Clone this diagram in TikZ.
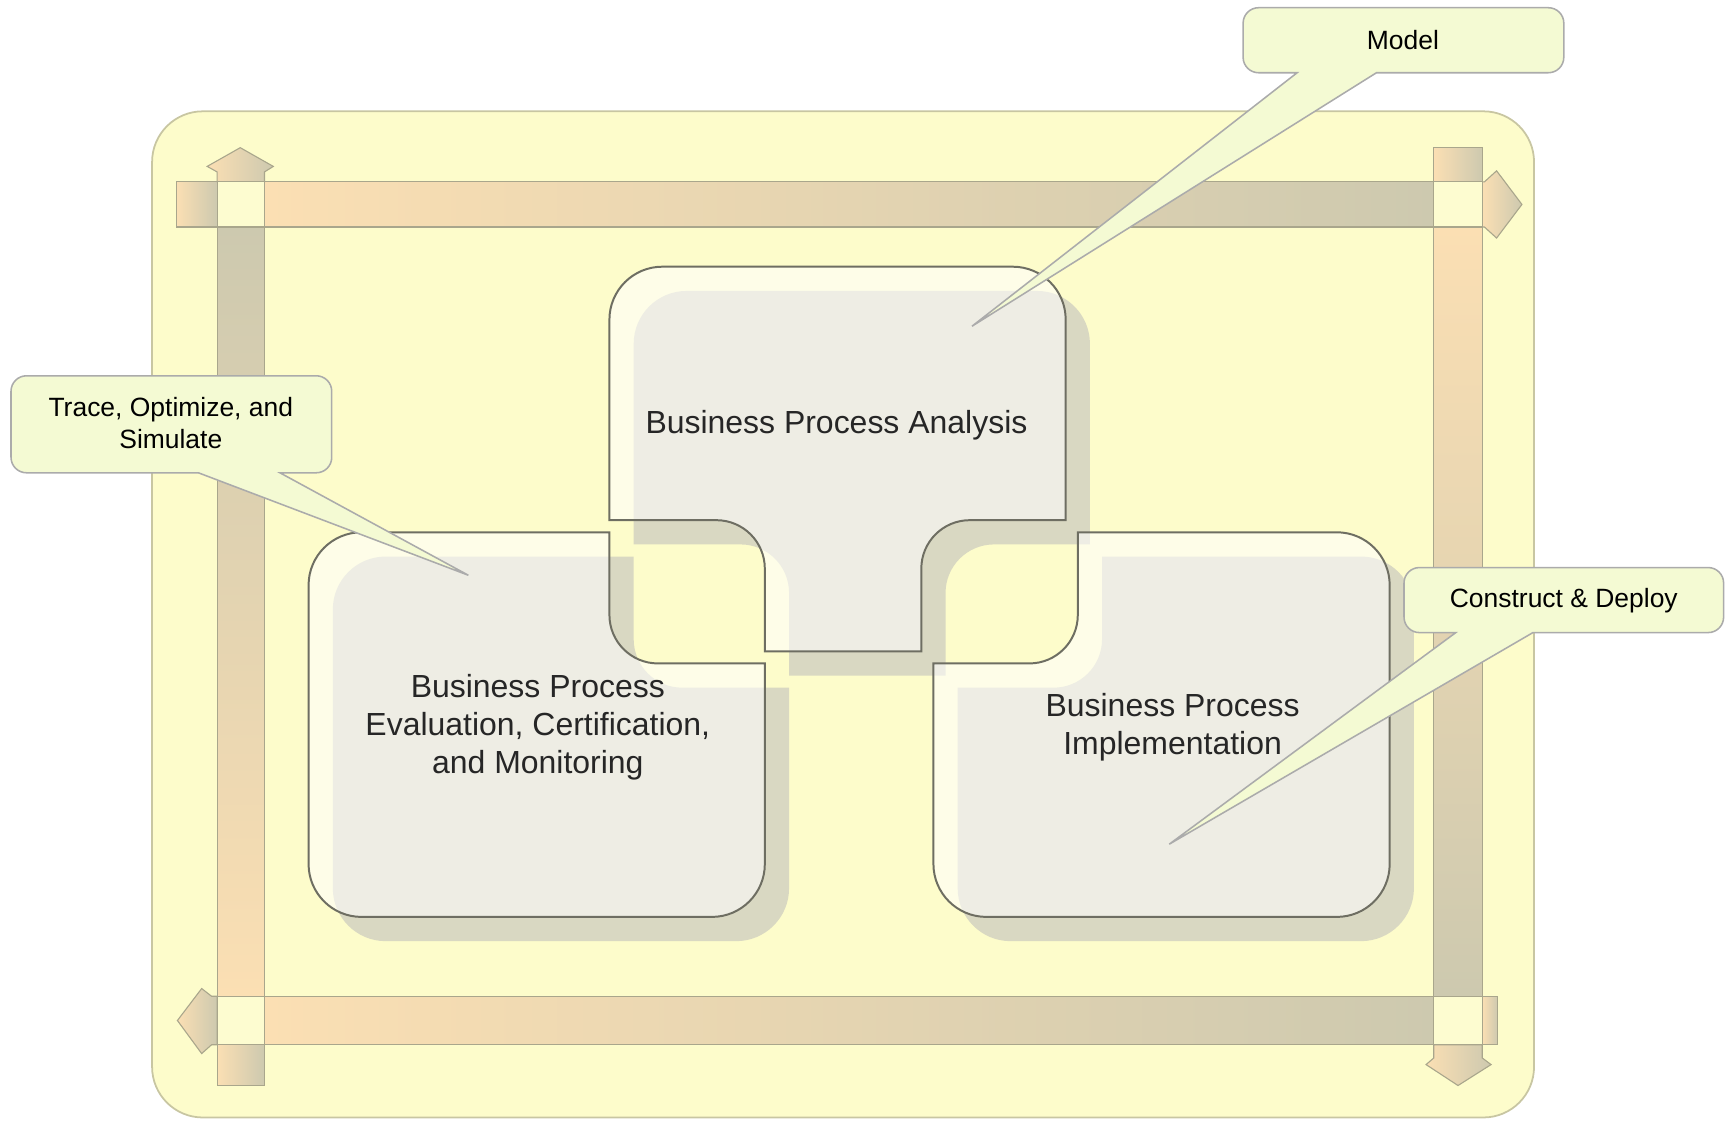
\documentclass[tikz,border=0pt]{standalone}
\usepackage{fontspec}
\setmainfont{Liberation Sans}
\definecolor{bgyellow}{HTML}{FDFCCB}
\definecolor{outerborder}{HTML}{C8C6A2}
\definecolor{shadowc}{HTML}{D9D8C2}
\definecolor{shapeline}{HTML}{6E6E62}
\definecolor{callfill}{HTML}{F4FAD3}
\definecolor{callborder}{HTML}{ABABAB}
\definecolor{peachc}{HTML}{FBDFB3}
\definecolor{graytc}{HTML}{CDC9AF}
\definecolor{barborder}{HTML}{A9A68C}
\definecolor{crossfill}{HTML}{FDFCD0}
\definecolor{labeltext}{HTML}{262626}
\tikzset{
  outerbox/.style={fill=bgyellow, draw=outerborder, line width=0.8pt, rounded corners=23pt},
  barpart/.style={draw=barborder, line width=0.5pt},
  endpart/.style={barpart, left color=peachc, right color=graytc},
  crossbox/.style={fill=crossfill, draw=barborder, line width=0.5pt},
  shadowstyle/.style={fill=shadowc, draw=none},
  piecestyle/.style={fill=white, fill opacity=0.56, draw=shapeline, line width=0.9pt},
  boxlabel/.style={align=center, text=labeltext, font=\fontsize{14.5pt}{17.25pt}\selectfont},
  callout/.style={fill=callfill, draw=callborder, line width=0.7pt},
  calltext/.style={align=center, text=black, font=\fontsize{12pt}{14.5pt}\selectfont}
}
\newcommand\PieceA[1]{\path[#1] (760,242) [rounded corners=24pt] -- (967,242) [sharp corners] -- (967,472) [rounded corners=22pt] -- (836,472) [sharp corners] -- (836,591) -- (694,591) [rounded corners=22pt] -- (694,472) [sharp corners] -- (553,472) [rounded corners=24pt] -- (553,242) -- cycle;}
\newcommand\PieceE[1]{\path[#1] (280,658) [rounded corners=24pt] -- (280,483) [sharp corners] -- (553,483) [rounded corners=22pt] -- (553,602) [sharp corners] -- (694,602) [rounded corners=24pt] -- (694,832) -- (280,832) -- cycle;}
\newcommand\PieceI[1]{\path[#1] (847,720) -- (847,602) [rounded corners=22pt] -- (978,602) [sharp corners] -- (978,483) [rounded corners=24pt] -- (1261,483) -- (1261,832) -- (847,832) -- cycle;}
\begin{document}
\begin{tikzpicture}[x=0.5pt,y=-0.5pt]
\useasboundingbox (0,0) rectangle (1568,1017.2);
% outer panel
\path[outerbox] (138,101) rectangle (1392,1014);
% arrow bodies
\shadedraw[barpart, left color=peachc, right color=graytc] (240,165) rectangle (1301,206);
\shadedraw[barpart, left color=peachc, right color=graytc] (240,904) rectangle (1301,948);
\shadedraw[barpart, top color=graytc, bottom color=peachc] (197,206) rectangle (240,904);
\shadedraw[barpart, top color=peachc, bottom color=graytc] (1301,206) rectangle (1345,904);
% arrow ends
\shadedraw[endpart] (160,165) rectangle (197,206);
\shadedraw[endpart] (1345,165) -- (1347,165) -- (1358,155) -- (1381,185.5) -- (1358,216) -- (1347,206) -- (1345,206) -- cycle;
\shadedraw[endpart] (197,904) -- (192,904) -- (183,897) -- (161,926) -- (183,956) -- (192,948) -- (197,948) -- cycle;
\shadedraw[endpart] (1345,904) rectangle (1359,948);
\shadedraw[endpart] (197,165) -- (197,156) -- (188,151) -- (218,134) -- (248,151) -- (240,156) -- (240,165) -- cycle;
\shadedraw[endpart] (197,948) rectangle (240,985);
\shadedraw[endpart] (1301,134) rectangle (1345,165);
\shadedraw[endpart] (1301,948) -- (1301,960) -- (1294,966) -- (1323,985) -- (1353,966) -- (1345,960) -- (1345,948) -- cycle;
% crossings
\path[crossbox] (197,165) rectangle (240,206);
\path[crossbox] (1301,165) rectangle (1345,206);
\path[crossbox] (197,904) rectangle (240,948);
\path[crossbox] (1301,904) rectangle (1345,948);
% shadows
\begin{scope}[shift={(22,22)}]
\PieceA{shadowstyle}
\PieceE{shadowstyle}
\PieceI{shadowstyle}
\end{scope}
% pieces
\PieceA{piecestyle}
\PieceE{piecestyle}
\PieceI{piecestyle}
\node[boxlabel] (analysis) at (759,386) {Business Process Analysis};
\node[boxlabel] (evaluation) at (488,660) {Business Process\\Evaluation, Certification,\\and Monitoring};
\node[boxlabel] (implementation) at (1064,660) {Business Process\\Implementation};
% callouts
\path[callout] (1249,66) [rounded corners=7pt] -- (1419,66) -- (1419,7) -- (1128,7) -- (1128,66) [sharp corners] -- (1177,66) -- (882,296) -- cycle;
\node[calltext] (model) at (1273,36) {Model};
\path[callout] (254,429) [rounded corners=7pt] -- (301,429) -- (301,341) -- (10,341) -- (10,429) [sharp corners] -- (180,429) -- (425,522) -- cycle;
\node[calltext] (trace) at (155,384) {Trace, Optimize, and\\Simulate};
\path[callout] (1391,574) [rounded corners=7pt] -- (1564,574) -- (1564,515) -- (1274,515) -- (1274,574) [sharp corners] -- (1321,574) -- (1061,766) -- cycle;
\node[calltext] (construct) at (1419,545) {Construct \& Deploy};
\end{tikzpicture}
\end{document}
